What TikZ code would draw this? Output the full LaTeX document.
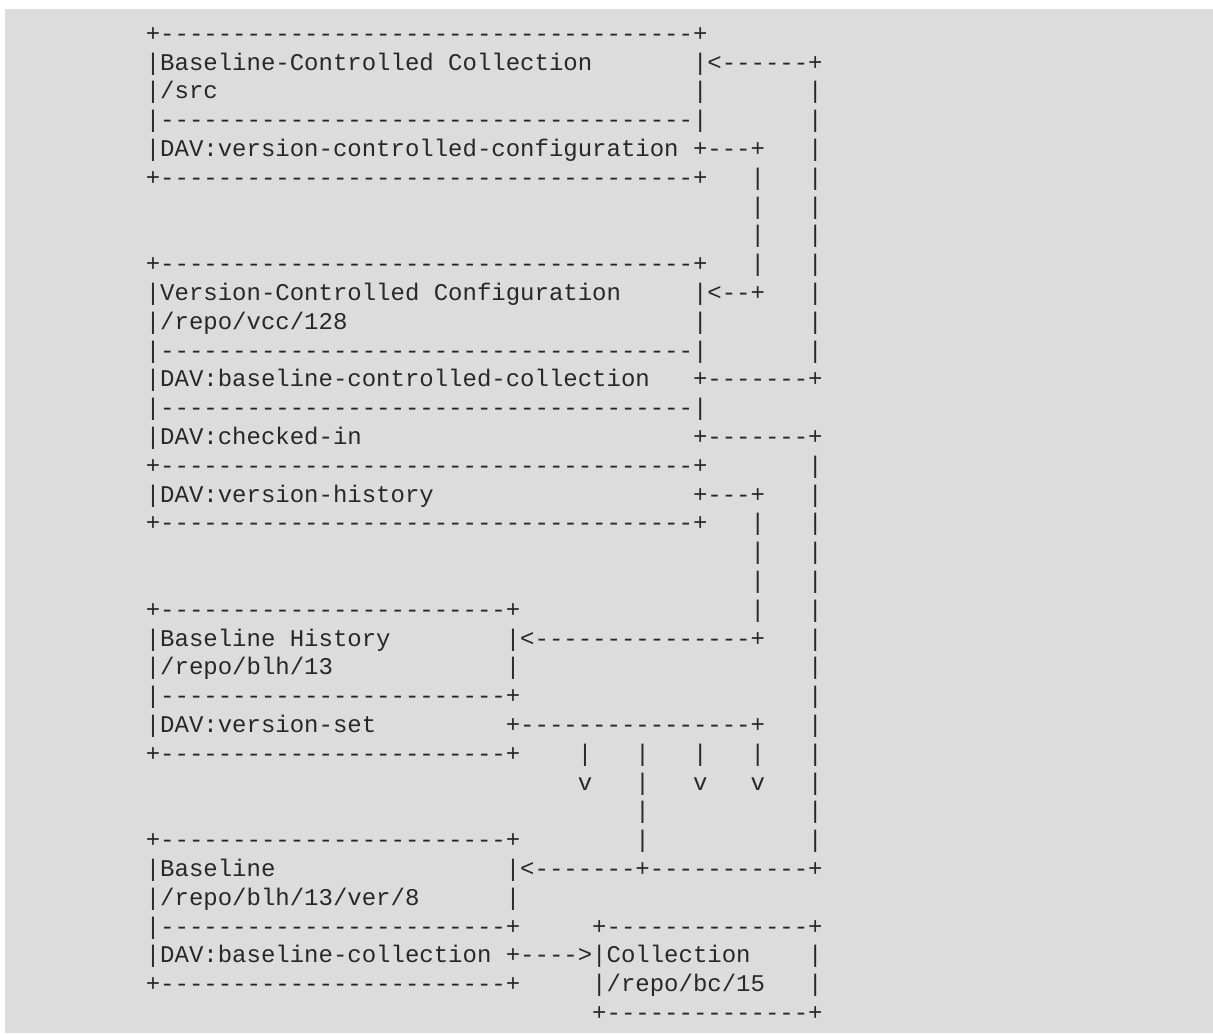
\documentclass[tikz,border=0pt]{standalone}
\usepackage{fontspec}
\newfontfamily\asciifont{Liberation Mono}
\definecolor{pagegray}{RGB}{220,220,220}
\definecolor{inkgray}{RGB}{40,40,40}
\newcommand{\dashrun}[1]{\foreach \k in {1,...,#1}{-}}
\tikzset{ascii/.style={font={\asciifont\fontsize{18}{21.6}\selectfont},text=inkgray,anchor=base west,inner sep=0pt,outer sep=0pt}}

\begin{document}
\begin{tikzpicture}[x=10.8pt,y=-21.6pt]
    \useasboundingbox (-10.125,-0.4306) rectangle (74.11,35.4375);
    \fill[pagegray] (-9.778,-0.118) rectangle (74.11,35.4375);

    % Baseline-Controlled Collection
    \node[ascii] (r1c0) at (0,1) {+\dashrun{37}+};
    \node[ascii] (r2c0) at (0,2) {|Baseline-Controlled Collection};
    \node[ascii] (r2c38) at (38,2) {|<\dashrun{6}+};
    \node[ascii] (r3c0) at (0,3) {|/src};
    \node[ascii] (r3c38) at (38,3) {|};
    \node[ascii] (r4c0) at (0,4) {|\dashrun{37}|};
    \node[ascii] (r5c0) at (0,5) {|DAV:version-controlled-configuration +\dashrun{3}+};
    \node[ascii] (r6c0) at (0,6) {+\dashrun{37}+};

    % Version-Controlled Configuration
    \node[ascii] (r9c0) at (0,9) {+\dashrun{37}+};
    \node[ascii] (r10c0) at (0,10) {|Version-Controlled Configuration};
    \node[ascii] (r10c38) at (38,10) {|<\dashrun{2}+};
    \node[ascii] (r11c0) at (0,11) {|/repo/vcc/128};
    \node[ascii] (r11c38) at (38,11) {|};
    \node[ascii] (r12c0) at (0,12) {|\dashrun{37}|};
    \node[ascii] (r13c0) at (0,13) {|DAV:baseline-controlled-collection};
    \node[ascii] (r13c38) at (38,13) {+\dashrun{7}+};
    \node[ascii] (r14c0) at (0,14) {|\dashrun{37}|};
    \node[ascii] (r15c0) at (0,15) {|DAV:checked-in};
    \node[ascii] (r15c38) at (38,15) {+\dashrun{7}+};
    \node[ascii] (r16c0) at (0,16) {+\dashrun{37}+};
    \node[ascii] (r17c0) at (0,17) {|DAV:version-history};
    \node[ascii] (r17c38) at (38,17) {+\dashrun{3}+};
    \node[ascii] (r18c0) at (0,18) {+\dashrun{37}+};

    % Baseline History
    \node[ascii] (r21c0) at (0,21) {+\dashrun{24}+};
    \node[ascii] (r22c0) at (0,22) {|Baseline History};
    \node[ascii] (r22c25) at (25,22) {|<\dashrun{15}+};
    \node[ascii] (r23c0) at (0,23) {|/repo/blh/13};
    \node[ascii] (r23c25) at (25,23) {|};
    \node[ascii] (r24c0) at (0,24) {|\dashrun{24}+};
    \node[ascii] (r25c0) at (0,25) {|DAV:version-set};
    \node[ascii] (r25c25) at (25,25) {+\dashrun{16}+};
    \node[ascii] (r26c0) at (0,26) {+\dashrun{24}+};
    \node[ascii] (r26c30) at (30,26) {|};
    \node[ascii] (r26c38) at (38,26) {|};
    \node[ascii] (r27c30) at (30,27) {v};
    \node[ascii] (r27c38) at (38,27) {v};
    \node[ascii] (r27c42) at (42,27) {v};

    % Baseline
    \node[ascii] (r29c0) at (0,29) {+\dashrun{24}+};
    \node[ascii] (r30c0) at (0,30) {|Baseline};
    \node[ascii] (r30c25) at (25,30) {|<\dashrun{7}+\dashrun{11}+};
    \node[ascii] (r31c0) at (0,31) {|/repo/blh/13/ver/8};
    \node[ascii] (r31c25) at (25,31) {|};
    \node[ascii] (r32c0) at (0,32) {|\dashrun{24}+};
    \node[ascii] (r33c0) at (0,33) {|DAV:baseline-collection +\dashrun{4}>|Collection};
    \node[ascii] (r34c0) at (0,34) {+\dashrun{24}+};

    % Collection
    \node[ascii] (r32c31) at (31,32) {+\dashrun{14}+};
    \node[ascii] (r34c31) at (31,34) {|/repo/bc/15};
    \node[ascii] (r35c31) at (31,35) {+\dashrun{14}+};

    % vertical runs
    \foreach \r in {3,...,12,16,17,...,29,33,34}
        \node[ascii] (r\r c46) at (46,\r) {|};
    \foreach \r in {6,7,8,9,18,19,20,21,26}
        \node[ascii] (r\r c42) at (42,\r) {|};
    \foreach \r in {26,27,28,29}
        \node[ascii] (r\r c34) at (34,\r) {|};
\end{tikzpicture}
\end{document}
